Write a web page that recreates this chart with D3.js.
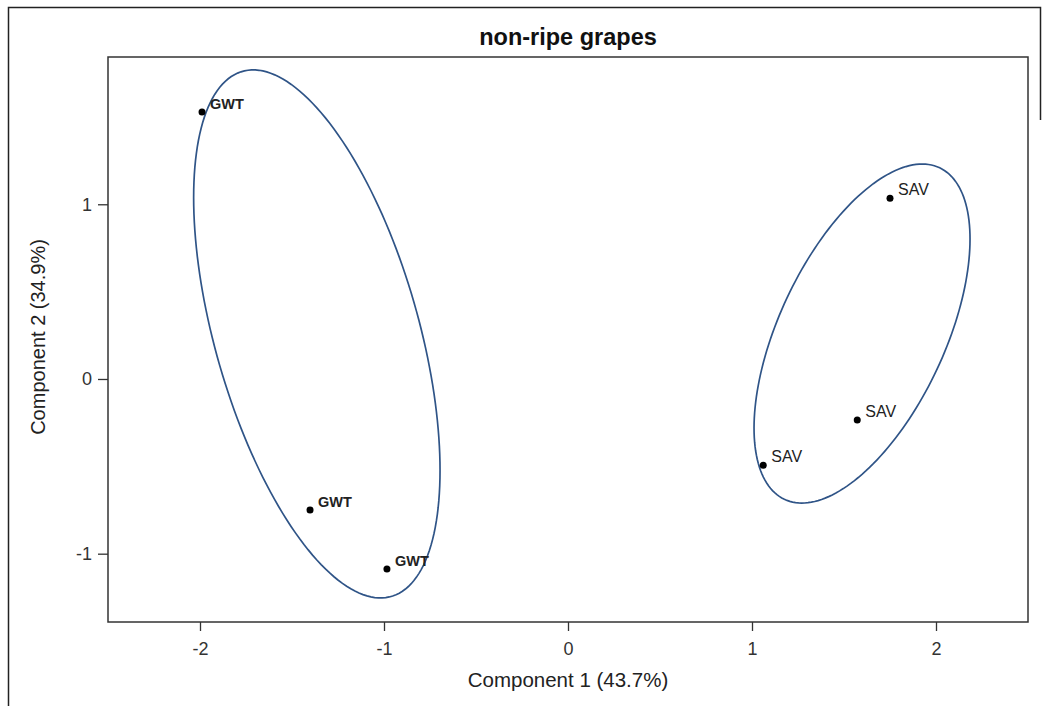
<!DOCTYPE html>
<html>
<head>
<meta charset="utf-8">
<script src="https://cdn.jsdelivr.net/npm/d3@7"></script>
<style>
  body { margin: 0; background: #fff; }
  text { font-family: "Liberation Sans", Arial, sans-serif; }
</style>
</head>
<body>
<div id="chart"></div>
<script>
// scores of the non-ripe grape samples
const groups = ['GWT', 'GWT', 'GWT', 'SAV', 'SAV', 'SAV'];
const comp1 = [-1.989, -1.402, -0.984, 1.750, 1.572, 1.061];
const comp2 = [1.528, -0.750, -1.088, 1.034, -0.235, -0.494];

// confidence ellipses: centre and covariance (data units)
const ellipseGroups = ['GWT', 'SAV'];
const ellipseCx = [-1.365, 1.598];
const ellipseCy = [0.258, 0.260];
const ellipseSxx = [0.4483, 0.3445];
const ellipseSyy = [2.2836, 0.9414];
const ellipseSxy = [-0.5226, 0.3173];

const xTicks = [-2, -1, 0, 1, 2];
const yTicks = [-1, 0, 1];

const width = 1043, height = 706;
const plotLeft = 108, plotRight = 1028, plotTop = 57, plotBottom = 622;

const svg = d3.select('#chart').append('svg')
  .attr('width', width)
  .attr('height', height);

// outer frame of the figure
svg.append('path')
  .attr('d', 'M8.5,' + height + 'V7.5H1040.5V120')
  .attr('fill', 'none')
  .attr('stroke', '#222')
  .attr('stroke-width', 1.5);

const x = d3.scaleLinear().domain([-2.5, 2.5]).range([plotLeft, plotRight]);
const y = d3.scaleLinear().domain([-1.391, 1.843]).range([plotBottom, plotTop]);

svg.append('text')
  .text('non-ripe grapes')
  .attr('x', 568)
  .attr('y', 45)
  .attr('text-anchor', 'middle')
  .attr('font-weight', 'bold')
  .attr('font-size', '23.5px')
  .attr('fill', '#111');

const xAxis = svg.append('g')
  .attr('transform', 'translate(0,' + plotBottom + ')')
  .call(d3.axisBottom(x).tickValues(xTicks).tickSize(9).tickPadding(11).tickFormat(d3.format('d')));

const yAxis = svg.append('g')
  .attr('transform', 'translate(' + plotLeft + ',0)')
  .call(d3.axisLeft(y).tickValues(yTicks).tickSize(10).tickPadding(6).tickFormat(d3.format('d')));

[xAxis, yAxis].forEach(g => {
  g.select('.domain').remove();
  g.selectAll('line').attr('stroke', '#333').attr('stroke-width', 1.3);
  g.selectAll('text')
    .attr('font-family', '"Liberation Sans", Arial, sans-serif')
    .attr('font-size', '18px')
    .attr('fill', '#333');
});
// plain hyphen for negatives, like the original
xAxis.selectAll('text').text(d => String(d));
yAxis.selectAll('text').text(d => String(d));

// plot box
svg.append('rect')
  .attr('x', plotLeft)
  .attr('y', plotTop)
  .attr('width', plotRight - plotLeft)
  .attr('height', plotBottom - plotTop)
  .attr('fill', 'none')
  .attr('stroke', '#333')
  .attr('stroke-width', 1.5);

svg.append('text')
  .text('Component 1 (43.7%)')
  .attr('x', 568)
  .attr('y', 687)
  .attr('text-anchor', 'middle')
  .attr('font-size', '20.5px')
  .attr('fill', '#222');

svg.append('text')
  .text('Component 2 (34.9%)')
  .attr('transform', 'translate(45,337) rotate(-90)')
  .attr('text-anchor', 'middle')
  .attr('font-size', '20px')
  .attr('fill', '#222');

// ellipses built from the covariance (cholesky), then mapped through the scales
const line = d3.line().curve(d3.curveLinearClosed);
const ellipses = ellipseGroups.map((g, i) => {
  const a = Math.sqrt(ellipseSxx[i]);
  const b = ellipseSxy[i] / a;
  const c = Math.sqrt(ellipseSyy[i] - b * b);
  return d3.range(0, 2 * Math.PI, Math.PI / 90).map(t => [
    x(ellipseCx[i] + a * Math.cos(t)),
    y(ellipseCy[i] + b * Math.cos(t) + c * Math.sin(t))
  ]);
});

svg.selectAll('.ellipse')
  .data(ellipses)
  .enter()
  .append('path')
  .attr('class', 'ellipse')
  .attr('d', d => line(d))
  .attr('fill', 'none')
  .attr('stroke', '#2f5487')
  .attr('stroke-width', 1.7);

const points = groups.map((g, i) => ({ group: g, c1: comp1[i], c2: comp2[i] }));

svg.selectAll('.pt')
  .data(points)
  .enter()
  .append('circle')
  .attr('class', 'pt')
  .attr('cx', d => x(d.c1))
  .attr('cy', d => y(d.c2))
  .attr('r', 3.5)
  .attr('fill', '#000');

svg.selectAll('.lbl')
  .data(points)
  .enter()
  .append('text')
  .attr('class', 'lbl')
  .text(d => d.group)
  .attr('x', d => x(d.c1) + 8)
  .attr('y', d => y(d.c2) - 3)
  .attr('font-size', d => d.group === 'GWT' ? '14.5px' : '16px')
  .attr('font-weight', d => d.group === 'GWT' ? 'bold' : 'normal')
  .attr('fill', '#222');
</script>
</body>
</html>
